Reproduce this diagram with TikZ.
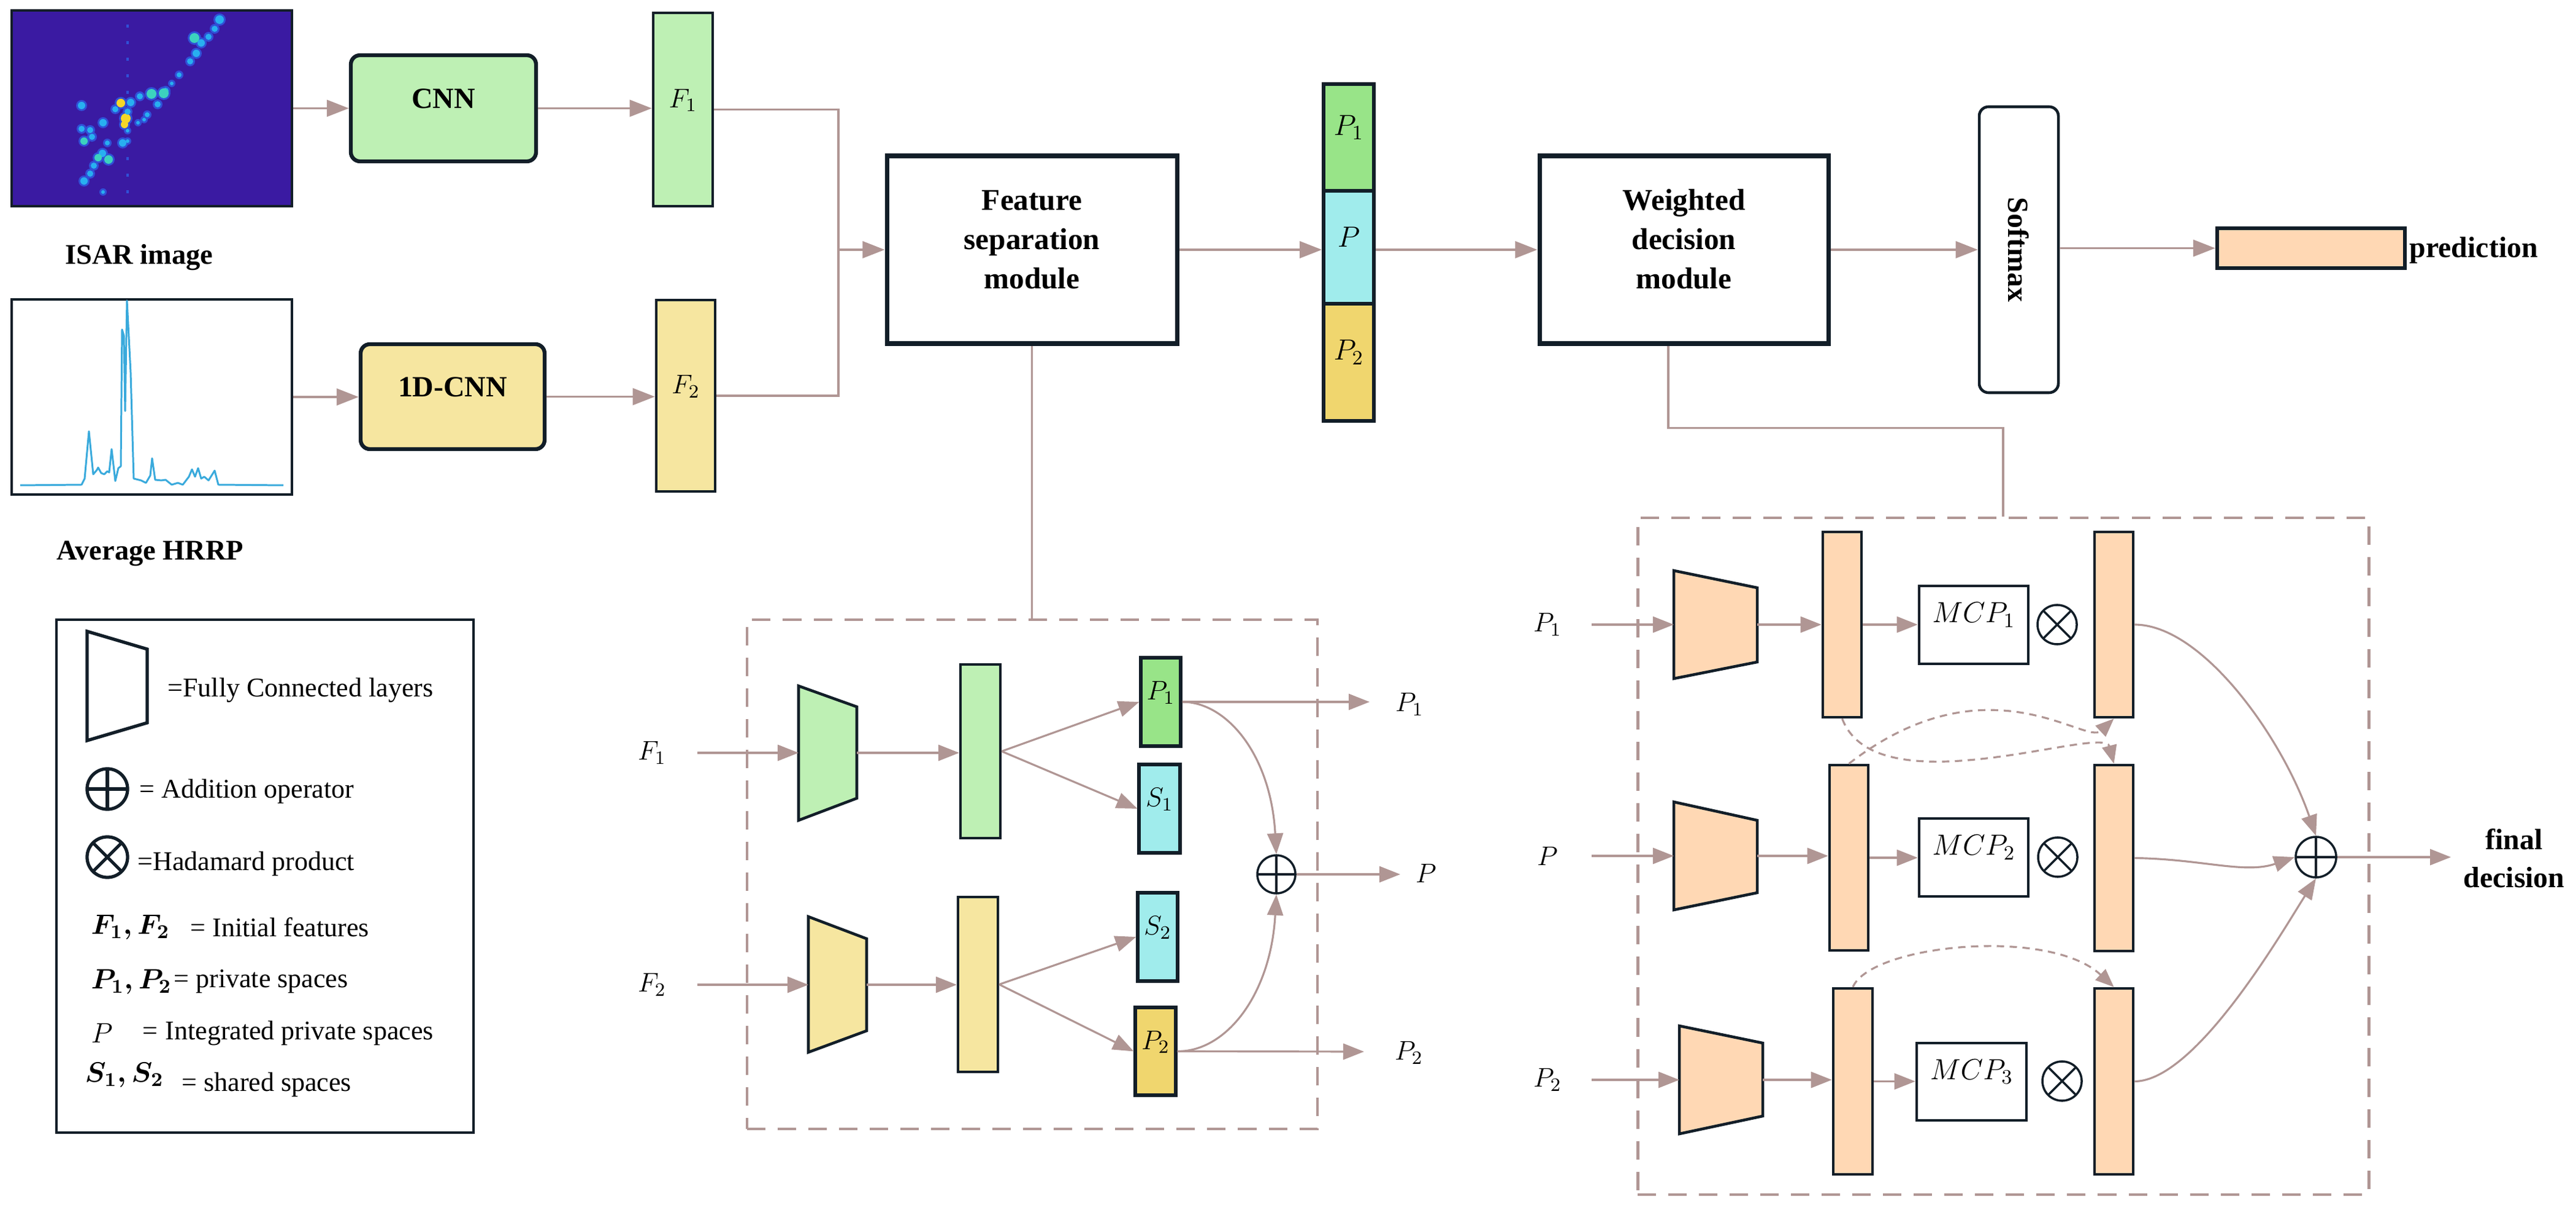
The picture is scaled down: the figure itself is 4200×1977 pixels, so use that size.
\documentclass[tikz,border=0pt]{standalone}
\usepackage{fix-cm}
\usepackage{amsmath}
\usepackage[no-math]{fontspec}
\setmainfont{Liberation Serif}
\usetikzlibrary{arrows.meta,fit,calc}
\definecolor{connc}{RGB}{176,150,148}
\definecolor{edgec}{RGB}{18,30,40}
\definecolor{lgreen}{RGB}{190,240,180}
\definecolor{dgreen}{RGB}{152,228,136}
\definecolor{lcyan}{RGB}{160,236,236}
\definecolor{lyellow}{RGB}{246,230,160}
\definecolor{dyellow}{RGB}{240,214,110}
\definecolor{peach}{RGB}{255,216,180}
\definecolor{isarbg}{RGB}{58,26,162}
\definecolor{hrrpc}{RGB}{58,170,220}
\definecolor{bh}{RGB}{48,80,215}
\definecolor{bc}{RGB}{40,175,240}
\definecolor{bg}{RGB}{60,210,190}
\definecolor{by}{RGB}{245,215,40}
\tikzset{
  fbox/.style={draw=edgec, line width=1.6pt, inner sep=0pt},
  conn/.style={draw=connc, line width=1.1pt, -{Triangle[length=0.36cm,width=0.27cm]}},
  cline/.style={draw=connc, line width=1.1pt},
  mconn/.style={draw=connc, line width=0.9pt, -{Triangle[length=0.34cm,width=0.26cm]}},
  dconn/.style={draw=connc, line width=0.9pt, dash pattern=on 0.12cm off 0.09cm, -{Triangle[length=0.3cm,width=0.24cm]}},
  modbox/.style={draw=connc, line width=1.4pt, dash pattern=on 0.3cm off 0.2cm, inner sep=0pt},
  trap/.style={draw=edgec, line width=1.3pt, line join=miter},
  opl/.style={circle, draw=edgec, line width=#1, minimum size=0.62cm, inner sep=0pt,
    path picture={\draw[edgec, line width=#1] (path picture bounding box.north) -- (path picture bounding box.south) (path picture bounding box.west) -- (path picture bounding box.east);}},
  opl/.default=1pt,
  otm/.style={circle, draw=edgec, line width=#1, minimum size=0.64cm, inner sep=0pt,
    path picture={\draw[edgec, line width=#1] (path picture bounding box.north west) -- (path picture bounding box.south east) (path picture bounding box.north east) -- (path picture bounding box.south west);}},
  otm/.default=1pt,
  bl/.style={font=\fontsize{13.6}{17.5}\selectfont\bfseries},
  bls/.style={font=\fontsize{13.2}{17}\selectfont\bfseries},
  bl3/.style={font=\fontsize{14}{18.2}\selectfont\bfseries, align=center},
  lg/.style={font=\fontsize{12.5}{15}\selectfont, anchor=west, inner sep=0pt},
  lgm/.style={font=\fontsize{13}{15}\selectfont, anchor=west, inner sep=0pt},
  mth/.style={font=\fontsize{12.5}{15}\selectfont},
  mthb/.style={font=\fontsize{13.5}{15}\selectfont},
}
\begin{document}
\begin{tikzpicture}[x=0.01cm,y=-0.01cm]
\useasboundingbox (0,0) rectangle (4200,1977);
\fill[white] (0,0) rectangle (4200,1977);

% ---------- ISAR image ----------
\node[fbox, line width=1.2pt, fill=isarbg, fit={(19,17)(476,336)}] (isar) {};
\draw[bh, line width=1.2pt, dash pattern=on 0.05cm off 0.22cm] (208,40) -- (208,332);
\foreach \px/\py/\r/\c in {358/32/7/bc,350/47/5/bc,340/60/5/bc,317/62/8/bg,328/70/6/bc,320/87/6/bc,310/100/5/bc,292/122/4/bc,280/136/3/bc,270/148/5/bc,267/152/8/bg,247/153/8/bg,257/170/5/bc,240/187/4/bc,228/157/5/bc,213/167/6/bc,197/168/7/by,188/178/5/bc,205/193/8/by,203/203/6/by,208/182/5/bc,168/200/6/bc,133/172/6/bc,133/210/5/bc,147/212/5/bc,137/230/6/bg,150/223/5/bc,200/233/6/bc,175/233/4/bc,167/250/6/bc,160/257/6/bg,177/260/7/bg,153/270/5/bc,147/283/5/bc,137/295/6/bc,168/313/3/bc,235/195/3/bc,225/200/3/bc,208/230/3/bc,208/213/3/bc}
  {\fill[bh] (\px,\py) circle[radius={(\r+3)*0.01cm}];}
\foreach \px/\py/\r/\c in {358/32/7/bc,350/47/5/bc,340/60/5/bc,317/62/8/bg,328/70/6/bc,320/87/6/bc,310/100/5/bc,292/122/4/bc,280/136/3/bc,270/148/5/bc,267/152/8/bg,247/153/8/bg,257/170/5/bc,240/187/4/bc,228/157/5/bc,213/167/6/bc,197/168/7/by,188/178/5/bc,205/193/8/by,203/203/6/by,208/182/5/bc,168/200/6/bc,133/172/6/bc,133/210/5/bc,147/212/5/bc,137/230/6/bg,150/223/5/bc,200/233/6/bc,175/233/4/bc,167/250/6/bc,160/257/6/bg,177/260/7/bg,153/270/5/bc,147/283/5/bc,137/295/6/bc,168/313/3/bc,235/195/3/bc,225/200/3/bc,208/230/3/bc,208/213/3/bc}
  {\fill[\c] (\px,\py) circle[radius={\r*0.01cm}];}
\node[bls] (isarlbl) at (227,420) {ISAR image};

% ---------- HRRP ----------
\node[fbox, line width=1.4pt, fill=white, fit={(19,488)(476,806)}] (hrrp) {};
\draw[hrrpc, line width=0.85pt, line join=round] plot coordinates {(33,791) (133,790) (138,780) (145,703) (152,773) (158,766) (160,762) (165,771) (170,773) (175,768) (178,770) (182,732) (188,784) (193,763) (197,760) (199,537) (202,547) (204,670) (207,490) (213,607) (218,780) (230,783) (238,787) (245,775) (248,747) (253,782) (263,783) (270,782) (280,790) (290,787) (298,790) (308,777) (313,765) (318,777) (323,763) (328,780) (333,777) (340,783) (350,767) (356,790) (462,791)};
\node[bls] (hrrplbl) at (245,902) {Average HRRP};

% ---------- top pipeline ----------
\node[fbox, line width=1.8pt, rounded corners=0.15cm, fill=lgreen, fit={(572,90)(874,263)}, bl] (cnn) {CNN};
\node[fbox, line width=1.8pt, rounded corners=0.15cm, fill=lyellow, fit={(588,561)(888,732)}, bl] (cnnd) {1D-CNN};
\node[fbox, line width=1.3pt, fill=lgreen, fit={(1065,21)(1162,336)}, mth] (f1) {$F_1$};
\node[fbox, line width=1.3pt, fill=lyellow, fit={(1070,489)(1166,801)}, mth] (f2) {$F_2$};
\node[fbox, line width=2pt, fill=white, fit={(1446,254)(1919,560)}, bl3] (fsm) {Feature\\separation\\module};
\node[fbox, line width=1.6pt, fill=dgreen, fit={(2158,137)(2240,311)}, mthb] (sp1) {$P_1$};
\node[fbox, line width=1.6pt, fill=lcyan, fit={(2158,311)(2240,495)}, mthb] (spm) {$P$};
\node[fbox, line width=1.6pt, fill=dyellow, fit={(2158,495)(2240,686)}, mthb] (sp2) {$P_2$};
\node[fbox, line width=2pt, fill=white, fit={(2510,254)(2981,560)}, bl3] (wdm) {Weighted\\decision\\module};
\node[fbox, line width=1.3pt, rounded corners=0.15cm, fill=white, fit={(3227,174)(3356,640)}] (soft) {};
\node[bl, rotate=-90] (softlbl) at (soft.center) {Softmax};
\node[fbox, line width=1.8pt, fill=peach, fit={(3615,372)(3921,437)}] (pred) {};
\node[bl, anchor=west, inner sep=0pt] (predlbl) at (3928,408) {prediction};

\coordinate (jn) at (1367,407);
\draw[conn] (isar) -- (cnn);
\draw[conn] (cnn.east) -- (cnn.east -| f1.west);
\draw[conn] (hrrp.east) -- (hrrp.east -| cnnd.west);
\draw[conn] (cnnd.east) -- (cnnd.east -| f2.west);
\draw[cline] (f1.east) -| (jn);
\draw[cline] (f2.east) -| (jn);
\draw[conn] (jn) -- (fsm.west);
\draw[conn] (fsm.east) -- (fsm.east -| spm.west);
\draw[conn] (wdm.west -| spm.east) -- (wdm.west);
\draw[conn] (wdm.east) -- (wdm.east -| soft.west);
\draw[conn] (pred.west -| soft.east) -- (pred.west);

% ---------- legend ----------
\node[draw=edgec, line width=0.9pt, inner sep=0pt, fit={(92,1010)(772,1846)}] (legend) {};
\draw[trap, line width=1.5pt] (142,1029) -- (240,1058) -- (240,1178) -- (142,1207) -- cycle;
\node[lg] (lt1) at (273,1125) {=Fully Connected layers};
\node[opl=1.5pt, minimum size=0.66cm] (lsum) at (175,1286) {};
\node[lg] (lt2) at (227,1290) {= Addition operator};
\node[otm=1.5pt, minimum size=0.66cm] (lprod) at (175,1397) {};
\node[lg] (lt3) at (224,1408) {=Hadamard product};
\node[lgm] (lm1) at (148,1511) {$\boldsymbol{F_1,F_2}$};
\node[lg] (lt4) at (310,1511) {= Initial features};
\node[lgm] (lm2) at (148,1600) {$\boldsymbol{P_1,P_2}$};
\node[lg] (lt5) at (283,1600) {= private spaces};
\node[lgm] (lm3) at (148,1684) {$P$};
\node[lg] (lt6a) at (232,1684) {=};
\node[lg] (lt6) at (269,1684) {Integrated private spaces};
\node[lgm] (lm4) at (138,1752) {$\boldsymbol{S_1,S_2}$};
\node[lg] (lt7) at (296,1768) {= shared spaces};

% ---------- feature separation module ----------
\node[modbox, fit={(1218,1010)(2148,1840)}] (fsbox) {};
\draw[cline] (fsm.south) -- (fsm.south |- fsbox.north);
\node[mth] (fin1) at (1063,1227) {$F_1$};
\node[mth] (fin2) at (1063,1605) {$F_2$};
\coordinate (gtl) at (1302,1227);
\coordinate (gtr) at (1397,1227);
\coordinate (ytl) at (1318,1605);
\coordinate (ytr) at (1413,1605);
\draw[trap, fill=lgreen] (1302,1118) -- (1397,1152) -- (1397,1301) -- (1302,1337) -- cycle;
\draw[trap, fill=lyellow] (1318,1494) -- (1413,1530) -- (1413,1680) -- (1318,1715) -- cycle;
\node[fbox, line width=1.2pt, fill=lgreen, fit={(1566,1083)(1631,1366)}] (gbar) {};
\node[fbox, line width=1.2pt, fill=lyellow, fit={(1562,1462)(1627,1747)}] (ybar) {};
\node[fbox, line width=1.5pt, fill=dgreen, fit={(1860,1072)(1925,1216)}, mth] (fp1) {$P_1$};
\node[fbox, line width=1.5pt, fill=lcyan, fit={(1857,1246)(1924,1390)}, mth] (fs1) {$S_1$};
\node[fbox, line width=1.5pt, fill=lcyan, fit={(1855,1455)(1920,1599)}, mth] (fs2) {$S_2$};
\node[fbox, line width=1.5pt, fill=dyellow, fit={(1851,1642)(1917,1785)}, mth] (fp2) {$P_2$};
\node[opl] (fsum) at (2081,1425) {};
\coordinate (o1) at (2233,1144);
\coordinate (o0) at (2283,1425);
\coordinate (o2) at (2224,1714);
\node[mth] (lo1) at (2298,1148) {$P_1$};
\node[mth] (lo0) at (2325,1423) {$P$};
\node[mth] (lo2) at (2297,1716) {$P_2$};
\draw[mconn] ([xshift=0.74cm]fin1.center) -- (gtl);
\draw[mconn] ([xshift=0.74cm]fin2.center) -- (ytl);
\draw[mconn] (gtr) -- (gtr -| gbar.west);
\draw[mconn] (ytr) -- (ytr -| ybar.west);
\draw[mconn] (gbar.east) -- (fp1.west);
\draw[mconn] (gbar.east) -- (fs1.west);
\draw[mconn] (ybar.east) -- (fs2.west);
\draw[mconn] (ybar.east) -- (fp2.west);
\draw[mconn] (fp1.east) -- (o1);
\draw[mconn] (fp2.east) -- (o2);
\draw[mconn] (fsum.east) -- (o0);
\draw[mconn] (fp1.east) .. controls (2000,1144) and (2072,1230) .. (fsum.north);
\draw[mconn] (fp2.east) .. controls (2000,1714) and (2072,1620) .. (fsum.south);

% ---------- weighted decision module ----------
\node[modbox, fit={(2670,844)(3862,1947)}] (wbox) {};
\draw[cline] ($(wdm.south west)!0.446!(wdm.south east)$) |- ($(wbox.north)+(0,-144)$) -- (wbox.north);
\node[mth] (wl1) at (2523,1018) {$P_1$};
\node[mth] (wl0) at (2523,1395) {$P$};
\node[mth] (wl2) at (2523,1760) {$P_2$};
\coordinate (w1L) at (2729,1018); \coordinate (w1R) at (2865,1018);
\coordinate (w2L) at (2729,1395); \coordinate (w2R) at (2865,1395);
\coordinate (w3L) at (2738,1760); \coordinate (w3R) at (2874,1760);
\draw[trap, fill=peach] (2729,930) -- (2865,958) -- (2865,1079) -- (2729,1106) -- cycle;
\draw[trap, fill=peach] (2729,1307) -- (2865,1337) -- (2865,1455) -- (2729,1483) -- cycle;
\draw[trap, fill=peach] (2738,1672) -- (2874,1700) -- (2874,1819) -- (2738,1848) -- cycle;
\node[fbox, line width=1.3pt, fill=peach, fit={(2972,867)(3035,1169)}] (wa1) {};
\node[fbox, line width=1.3pt, fill=peach, fit={(2983,1247)(3046,1549)}] (wa2) {};
\node[fbox, line width=1.3pt, fill=peach, fit={(2989,1611)(3053,1914)}] (wa3) {};
\node[fbox, line width=1.3pt, fill=white, fit={(3129,955)(3307,1082)}, mthb] (m1) {$MCP_1$};
\node[fbox, line width=1.3pt, fill=white, fit={(3129,1334)(3307,1461)}, mthb] (m2) {$MCP_2$};
\node[fbox, line width=1.3pt, fill=white, fit={(3125,1700)(3304,1826)}, mthb] (m3) {$MCP_3$};
\node[otm] (x1) at (3354,1018) {};
\node[otm] (x2) at (3355,1397) {};
\node[otm] (x3) at (3362,1762) {};
\node[fbox, line width=1.3pt, fill=peach, fit={(3415,867)(3478,1169)}] (wb1) {};
\node[fbox, line width=1.3pt, fill=peach, fit={(3415,1247)(3478,1550)}] (wb2) {};
\node[fbox, line width=1.3pt, fill=peach, fit={(3415,1611)(3478,1914)}] (wb3) {};
\node[opl=1pt, minimum size=0.66cm] (wsum) at (3776,1397) {};
\coordinate (fo) at (3996,1397);
\node[bl, align=center] (fdlbl) at (4099,1399) {final\\decision};
\draw[mconn] ([xshift=0.72cm]wl1.center) -- (w1L);
\draw[mconn] ([xshift=0.72cm]wl0.center) -- (w2L);
\draw[mconn] ([xshift=0.72cm]wl2.center) -- (w3L);
\draw[mconn] (w1R) -- (w1R -| wa1.west);
\draw[mconn] (w2R) -- (w2R -| wa2.west);
\draw[mconn] (w3R) -- (w3R -| wa3.west);
\draw[mconn] (wa1.east) -- (wa1.east -| m1.west);
\draw[mconn] (wa2.east) -- (wa2.east -| m2.west);
\draw[mconn] (wa3.east) -- (wa3.east -| m3.west);
\draw[mconn] (wb1.east) .. controls (3590,1018) and (3720,1200) .. (wsum.north);
\draw[mconn] (wb2.east) .. controls (3590,1400) and (3660,1425) .. (wsum.west);
\draw[mconn] (wb3.east) .. controls (3580,1762) and (3720,1520) .. (wsum.south);
\draw[mconn] (wsum.east) -- (fo);
\draw[dconn] (wa1.south) .. controls (3060,1320) and (3430,1180) .. (wb2.north);
\draw[dconn] (wa2.north) .. controls (3240,1070) and (3400,1215) .. (wb1.south);
\draw[dconn] (wa3.north) .. controls (3050,1540) and (3340,1510) .. (wb3.north);
\end{tikzpicture}
\end{document}
